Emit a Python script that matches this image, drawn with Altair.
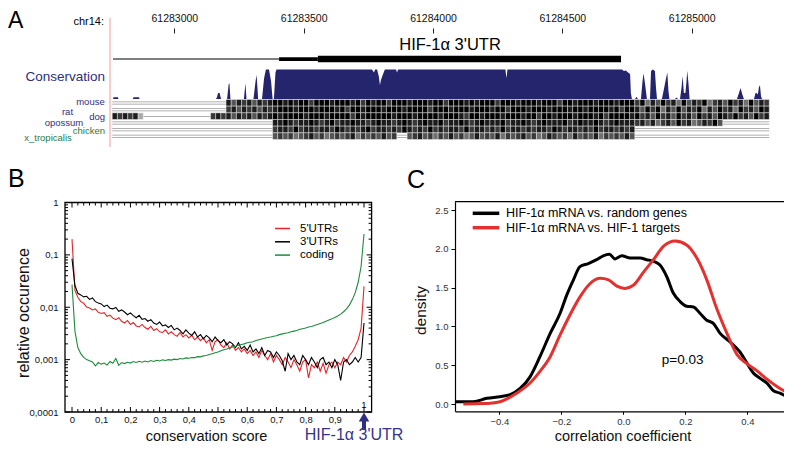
import altair as alt
import pandas as pd

FONT = "Liberation Sans"
W, H = 776, 436

# ---------------- Panel A : genome browser view ----------------
CHR_TICKS = [61283000, 61283500, 61284000, 61284500, 61285000]
GENE_PART = ["flank", "cds", "utr"]
GENE_START = [61282763, 61283405, 61283555]
GENE_END = [61283405, 61283555, 61284727]
GENE_NAME = "HIF-1α 3'UTR"
GENE_NAME_POS = 61284066

CONS_BASE = 61283000
CONS_OFFSET = [-237, -235, -218, -216, -160, -158, -136, -135,
               161, 165, 169, 175, 179, 181, 204, 210, 213, 217, 269, 275, 279,
               306, 314, 318, 322, 324, 339, 347, 354, 366, 374, 380, 385, 391, 395,
               764, 772, 776, 784, 791, 795, 799, 807, 814, 857, 861, 865, 1280, 1284, 1288,
               1731, 1738, 1746, 1754, 1762, 1765, 1769, 1781, 1787, 1792,
               1804, 1810, 1814, 1820, 1827, 1839, 1843, 1850, 1858, 1862, 1866,
               1885, 1893, 1901, 1906, 1910, 1914, 1935, 1942, 1947,
               1955, 1961, 1965, 1970, 1976, 1980, 1983, 1988, 1992,
               2175, 2183, 2189, 2196, 2202, 2241, 2247, 2251, 2256, 2260, 2264, 2268, 2272]
CONS_VALUE = [0, 0.06, 0.06, 0, 0, 0.06, 0.06, 0,
              0, 0.06, 0.2, 0.2, 0.06, 0, 0, 0.5, 0.53, 0, 0, 0.53, 0,
              0, 0.6, 0.81, 0.3, 0, 0, 0.7, 1.0, 1.0, 0.6, 0, 0, 0.9, 1.0,
              1.0, 0.9, 1.0, 1.0, 0.75, 0.47, 0.65, 0.85, 1.0, 1.0, 0.9, 1.0, 1.0, 0.7, 1.0,
              1.0, 0.95, 0.97, 0.9, 0.85, 0.2, 0, 0, 0.08, 0,
              0, 0.6, 0.87, 0.5, 0, 0, 0.95, 1.0, 0.95, 0.4, 0,
              0, 0.35, 0.7, 0.9, 0.3, 0, 0, 0.05, 0,
              0, 0.4, 0.78, 0.2, 0.2, 0.6, 0.96, 0.5, 0,
              0, 0.2, 0.37, 0.15, 0, 0, 0.2, 0.2, 0.15, 0.4, 0.47, 0.1, 0]

ALIGN_START = 61282760
ALIGN_BIN = 20
SPECIES = ["mouse", "rat", "dog", "opossum", "chicken", "x_tropicalis"]
MOUSE_ALN = ("-" * 22 + "868786878"
             + "9989899799" + "9899989798" + "9979998999" + "8997999898"
             + "9997999899" + "9899979989" + "9989998999"
             + "79586978596879578697859687")
RAT_ALN = ("-" * 22 + "786878687"
           + "8999899989" + "9989799899" + "9899989999" + "7999899989"
           + "9989979998" + "9998999899" + "8999989799"
           + "86979586968795869785978698")
DOG_ALN = ("87878" + "3" + "_" * 13 + "787868786878"
           + "9899998999" + "8999979899" + "9998999899" + "9989998799"
           + "8999899989" + "9799899989" + "9989799998"
           + "97869786978697869879786978")
OPOSSUM_ALN = ("-" * 31
               + "8898788987" + "8978898878" + "9887898789" + "8897889878"
               + "9888978898" + "7898889789" + "8898789888"
               + "78685786978568796" + "-" * 9)
CHICKEN_ALN = ("-" * 31
               + "7887978878" + "8798787897" + "8878798787" + "9787887978"
               + "8787978878" + "7887987887" + "8797887878" + "-" * 26)
XTROP_ALN = ("-" * 31 + "676756786756767857676867" + "--"
             + "6786757686" + "7568676857" + "6786756876" + "7586768576" + "7686"
             + "-" * 26)

# ---------------- Panel B : conservation score distributions ----------------
SCORE = [0.00, 0.01, 0.02, 0.03, 0.04, 0.05, 0.06, 0.07, 0.08, 0.09,
         0.10, 0.11, 0.12, 0.13, 0.14, 0.15, 0.16, 0.17, 0.18, 0.19,
         0.20, 0.21, 0.22, 0.23, 0.24, 0.25, 0.26, 0.27, 0.28, 0.29,
         0.30, 0.31, 0.32, 0.33, 0.34, 0.35, 0.36, 0.37, 0.38, 0.39,
         0.40, 0.41, 0.42, 0.43, 0.44, 0.45, 0.46, 0.47, 0.48, 0.49,
         0.50, 0.51, 0.52, 0.53, 0.54, 0.55, 0.56, 0.57, 0.58, 0.59,
         0.60, 0.61, 0.62, 0.63, 0.64, 0.65, 0.66, 0.67, 0.68, 0.69,
         0.70, 0.71, 0.72, 0.73, 0.74, 0.75, 0.76, 0.77, 0.78, 0.79,
         0.80, 0.81, 0.82, 0.83, 0.84, 0.85, 0.86, 0.87, 0.88, 0.89,
         0.90, 0.91, 0.92, 0.93, 0.94, 0.95, 0.96, 0.97, 0.98, 0.99, 1.00]
UTR5 = [0.2, 0.021, 0.0155, 0.0128, 0.0119, 0.0101, 0.0097, 0.0089, 0.0093, 0.0080,
        0.0076, 0.0079, 0.0067, 0.0071, 0.0062, 0.0058, 0.0063, 0.0054, 0.0050, 0.0056,
        0.0047, 0.0051, 0.0044, 0.0042, 0.0047, 0.0041, 0.0038, 0.0043, 0.0036, 0.0039,
        0.0034, 0.0033, 0.0037, 0.0031, 0.0034, 0.0030, 0.0028, 0.0033, 0.0027, 0.0030,
        0.0026, 0.0029, 0.0024, 0.0027, 0.0023, 0.0026, 0.0021, 0.0024, 0.0015, 0.0022,
        0.0024, 0.0019, 0.0017, 0.0021, 0.0016, 0.0019, 0.0015, 0.0017, 0.0014, 0.0016,
        0.0013, 0.0015, 0.0012, 0.0014, 0.0011, 0.0015, 0.0012, 0.0010, 0.0013, 0.0009,
        0.0012, 0.0010, 0.0008, 0.0011, 0.0009, 0.0007, 0.0010, 0.0008, 0.0006, 0.0009,
        0.0010, 0.00045, 0.0008, 0.0007, 0.0009, 0.0006, 0.00085, 0.00055, 0.0008, 0.0009,
        0.0007, 0.0009, 0.0008, 0.0011, 0.0009, 0.0012, 0.0014, 0.0018, 0.0024, 0.0040, 0.025]
UTR3 = [0.085, 0.026, 0.0185, 0.0172, 0.0158, 0.0162, 0.0141, 0.0150, 0.0128, 0.0121,
        0.0116, 0.0103, 0.0110, 0.0096, 0.0093, 0.0099, 0.0084, 0.0089, 0.0081, 0.0072,
        0.0078, 0.0069, 0.0063, 0.0070, 0.0059, 0.0061, 0.0054, 0.0058, 0.0050, 0.0047,
        0.0052, 0.0044, 0.0046, 0.0041, 0.0045, 0.0037, 0.0040, 0.0036, 0.0031, 0.0037,
        0.0032, 0.0029, 0.0034, 0.0027, 0.0030, 0.0025, 0.0029, 0.0026, 0.0022, 0.0027,
        0.0023, 0.0021, 0.0024, 0.0019, 0.0022, 0.0020, 0.0017, 0.0021, 0.0016, 0.0018,
        0.0015, 0.0019, 0.0014, 0.0016, 0.0013, 0.0017, 0.0012, 0.0015, 0.0014, 0.0011,
        0.0014, 0.0012, 0.00095, 0.0006, 0.0013, 0.0010, 0.0012, 0.0009, 0.0008, 0.0012,
        0.0010, 0.0008, 0.0011, 0.0009, 0.0007, 0.0010, 0.0011, 0.0008, 0.0009, 0.0007,
        0.0010, 0.0008, 0.0004, 0.0009, 0.0010, 0.0008, 0.0009, 0.0011, 0.0009, 0.0011, 0.005]
CODING = [0.027, 0.0035, 0.0017, 0.0013, 0.0011, 0.001, 0.00095, 0.0009, 0.00076, 0.00088,
          0.00082, 0.00086, 0.00079, 0.00092, 0.00085, 0.00105, 0.00078, 0.00088, 0.00084, 0.00089,
          0.00086, 0.00092, 0.00088, 0.00093, 0.00089, 0.00094, 0.0009, 0.00096, 0.00092, 0.00097,
          0.00094, 0.00099, 0.00096, 0.001, 0.00098, 0.00102, 0.001, 0.00105, 0.00103, 0.00108,
          0.00106, 0.0011, 0.00109, 0.00114, 0.00113, 0.00118, 0.0012, 0.00125, 0.0013, 0.00135,
          0.0014, 0.00148, 0.00155, 0.0016, 0.00168, 0.00175, 0.0018, 0.00188, 0.00195, 0.002,
          0.0021, 0.00215, 0.0022, 0.00232, 0.0024, 0.00248, 0.00255, 0.00265, 0.0027, 0.0028,
          0.00285, 0.003, 0.0031, 0.0032, 0.00325, 0.0034, 0.0035, 0.0036, 0.0038, 0.0039,
          0.004, 0.0042, 0.0043, 0.0045, 0.0047, 0.0049, 0.0051, 0.0054, 0.0057, 0.006,
          0.0064, 0.0068, 0.0074, 0.0082, 0.0093, 0.011, 0.014, 0.019, 0.03, 0.06, 0.25]
B_SERIES = ["5'UTRs", "3'UTRs", "coding"]
B_COLORS = ["#e5252b", "#000000", "#1d8b3d"]
B_XLABELS = [0, 0.1, 0.2, 0.3, 0.4, 0.5, 0.6, 0.7, 0.8, 0.9]
B_XMAJOR = [0, 0.1, 0.2, 0.3, 0.4, 0.5, 0.6, 0.7, 0.8, 0.9, 1.0]
B_XMINOR = [0.02, 0.04, 0.06, 0.08, 0.12, 0.14, 0.16, 0.18, 0.22, 0.24, 0.26, 0.28,
            0.32, 0.34, 0.36, 0.38, 0.42, 0.44, 0.46, 0.48, 0.52, 0.54, 0.56, 0.58,
            0.62, 0.64, 0.66, 0.68, 0.72, 0.74, 0.76, 0.78, 0.82, 0.84, 0.86, 0.88,
            0.92, 0.94, 0.96, 0.98]
B_YMAJOR = [1, 0.1, 0.01, 0.001, 0.0001]
B_YMINOR = [0.0002, 0.0003, 0.0004, 0.0005, 0.0006, 0.0007, 0.0008, 0.0009,
            0.002, 0.003, 0.004, 0.005, 0.006, 0.007, 0.008, 0.009,
            0.02, 0.03, 0.04, 0.05, 0.06, 0.07, 0.08, 0.09,
            0.2, 0.3, 0.4, 0.5, 0.6, 0.7, 0.8, 0.9]

# ---------------- Panel C : correlation densities ----------------
C_SERIES = ["HIF-1α mRNA vs. random genes", "HIF-1α mRNA vs. HIF-1 targets"]
C_COLORS = ["#000000", "#e3312f"]
RANDOM_X = [-0.543, -0.484, -0.44, -0.398, -0.365, -0.333, -0.301, -0.269, -0.236, -0.204,
            -0.183, -0.161, -0.14, -0.113, -0.086, -0.065, -0.045, -0.027, -0.005, 0.022,
            0.054, 0.075, 0.097, 0.118, 0.14, 0.161, 0.183, 0.204, 0.226, 0.247,
            0.269, 0.29, 0.312, 0.344, 0.376, 0.398, 0.419, 0.441, 0.463, 0.484, 0.505, 0.538]
RANDOM_Y = [0.03, 0.03, 0.073, 0.094, 0.12, 0.2, 0.35, 0.61, 0.91, 1.17,
            1.40, 1.6, 1.77, 1.81, 1.86, 1.91, 1.93, 1.87, 1.91, 1.88,
            1.88, 1.86, 1.84, 1.79, 1.64, 1.43, 1.32, 1.26, 1.25, 1.17,
            1.08, 1.04, 0.91, 0.80, 0.67, 0.53, 0.40, 0.33, 0.27, 0.17, 0.14, 0.07]
TARGET_X = [-0.516, -0.452, -0.398, -0.344, -0.301, -0.269, -0.236, -0.204, -0.172, -0.14,
            -0.108, -0.075, -0.048, -0.021, 0.005, 0.032, 0.065, 0.097, 0.129, 0.167,
            0.204, 0.237, 0.269, 0.301, 0.334, 0.366, 0.398, 0.43, 0.463, 0.505, 0.543]
TARGET_Y = [0.0, 0.005, 0.03, 0.14, 0.27, 0.42, 0.61, 0.89, 1.15, 1.38,
            1.55, 1.62, 1.60, 1.52, 1.49, 1.53, 1.70, 1.86, 2.03, 2.10,
            2.05, 1.88, 1.60, 1.23, 0.91, 0.64, 0.52, 0.43, 0.32, 0.2, 0.12]
C_XTICKS = [-0.4, -0.2, 0, 0.2, 0.4]
C_YTICKS = [0, 0.5, 1.0, 1.5, 2.0, 2.5]

# ---------------- colours ----------------
NAVY_FILL = "#25256e"
NAVY_TXT = "#2f2f7c"
GREEN_TXT = "#2b7a3a"

# ---------------- scales (explicit pixel ranges) ----------------
XA = alt.Scale(domain=[61282357, 61285357], range=[0, 776], nice=False, zero=False)
CONS_Y = alt.Scale(domain=[0, 1], range=[91, 61.5], nice=False, zero=False)
ROW_Y = alt.Scale(domain=[0, 6], range=[91.5, 131.5], nice=False, zero=False)
BX = alt.Scale(domain=[-0.024, 1.026], range=[57, 363.6], nice=False, zero=False)
BY = alt.Scale(type="log", domain=[0.0001, 1], range=[404, 194.5], nice=False)
CX = alt.Scale(domain=[-0.543, 0.518], range=[447, 776], nice=False, zero=False)
CY = alt.Scale(domain=[-0.094, 2.607], range=[403.3, 193.7], nice=False, zero=False)

ONE = pd.DataFrame({"d": [0]})
layers = []


def label(text, x, y, size, color="black", align="left", baseline="middle", angle=0):
    return alt.Chart(pd.DataFrame({"t": [text]})).mark_text(
        align=align, baseline=baseline, fontSize=size, color=color, angle=angle, font=FONT
    ).encode(text="t:N", x=alt.value(x), y=alt.value(y))


# ---- Panel A ----
gene_df = pd.DataFrame({"start": GENE_START, "end": GENE_END, "part": GENE_PART})
layers.append(alt.Chart(gene_df).mark_rule(color="black").encode(
    x=alt.X("start:Q", scale=XA, axis=alt.Axis(
        orient="top", values=CHR_TICKS, format="d", offset=-25, tickSize=5, tickColor="#222",
        labelPadding=5, labelFontSize=10.5, labelColor="#111", domain=False, grid=False,
        title=None, labelFlush=False, labelOverlap=False)),
    x2="end:Q",
    y=alt.value(51),
    size=alt.Size("part:N", scale=alt.Scale(domain=GENE_PART, range=[1, 6.5, 3.5]), legend=None),
))
layers.append(alt.Chart(pd.DataFrame({"t": [GENE_NAME]})).mark_text(
    fontSize=16.5, align="center", baseline="middle", font=FONT, color="black"
).encode(text="t:N", x=alt.XDatum(GENE_NAME_POS, scale=XA, axis=None), y=alt.value(37)))

cons_df = pd.DataFrame({"pos": [CONS_BASE + o for o in CONS_OFFSET], "cons": CONS_VALUE})
layers.append(alt.Chart(cons_df).mark_area(color=NAVY_FILL, interpolate="linear").encode(
    x=alt.X("pos:Q", scale=XA, axis=None),
    y=alt.Y("cons:Q", scale=CONS_Y, axis=None),
))

blocks, gaps = [], []
for r, s in enumerate([MOUSE_ALN, RAT_ALN, DOG_ALN, OPOSSUM_ALN, CHICKEN_ALN, XTROP_ALN]):
    i = 0
    while i < len(s):
        c = s[i]
        j = i + 1
        if c.isdigit():
            g = int(round(255 * (1 - int(c) / 9)))
            blocks.append({"start": ALIGN_START + i * ALIGN_BIN, "end": ALIGN_START + j * ALIGN_BIN,
                           "row": r, "row2": r + 1, "fill": "#%02x%02x%02x" % (g, g, g)})
        else:
            while j < len(s) and s[j] == c:
                j += 1
            for o in ([0.35, 0.7] if c == "-" else [0.55]):
                gaps.append({"start": ALIGN_START + i * ALIGN_BIN, "end": ALIGN_START + j * ALIGN_BIN,
                             "y": r + o})
        i = j
layers.append(alt.Chart(pd.DataFrame(gaps)).mark_rule(color="#a6a6a6", strokeWidth=0.9).encode(
    x=alt.X("start:Q", scale=XA, axis=None), x2="end:Q",
    y=alt.Y("y:Q", scale=ROW_Y, axis=None),
))
layers.append(alt.Chart(pd.DataFrame(blocks)).mark_rect(stroke="white", strokeWidth=0.4).encode(
    x=alt.X("start:Q", scale=XA, axis=None), x2="end:Q",
    y=alt.Y("row:Q", scale=ROW_Y, axis=None), y2="row2:Q",
    fill=alt.Fill("fill:N", scale=None),
))
layers.append(alt.Chart(ONE).mark_rule(color="#f19a9a", strokeWidth=1).encode(
    x=alt.value(102), y=alt.value(10), y2=alt.value(139)))

layers.append(label("A", 0, 19.5, 23, baseline="alphabetic"))
layers.append(label("chr14:", 96, 14, 11, align="right"))
layers.append(label("Conservation", 97, 69, 13.5, color=NAVY_TXT, align="right"))
for name, x, y, al, col in [("mouse", 96.7, 93.5, "right", NAVY_TXT),
                            ("rat", 59.5, 104, "center", NAVY_TXT),
                            ("dog", 97, 109.3, "right", NAVY_TXT),
                            ("opossum", 56, 114.7, "center", NAVY_TXT),
                            ("chicken", 97, 122.5, "right", GREEN_TXT),
                            ("x_tropicalis", 40, 129.5, "center", GREEN_TXT)]:
    layers.append(label(name, x, y, 9.5, color=col, align=al))

# ---- Panel B ----
b_df = pd.DataFrame({
    "score": SCORE * 3,
    "value": UTR5 + UTR3 + CODING,
    "series": [B_SERIES[0]] * len(SCORE) + [B_SERIES[1]] * len(SCORE) + [B_SERIES[2]] * len(SCORE),
})
layers.append(alt.Chart(b_df).mark_line(strokeWidth=1.1).encode(
    x=alt.X("score:Q", scale=BX, axis=alt.Axis(
        orient="bottom", offset=-32, values=B_XLABELS, tickSize=0, domain=False, grid=False,
        labelExpr="datum.value == 0 ? '0' : replace(format(datum.value, '.1f'), '.', ',')",
        labelPadding=2, labelFontSize=9.5, labelColor="#111", labelFlush=False, labelOverlap=False,
        title="conservation score", titleFontSize=14.5, titleFontWeight="normal", titleColor="#111",
        titleX=198, titleY=28.5, titleBaseline="alphabetic")),
    y=alt.Y("value:Q", scale=BY, axis=alt.Axis(
        orient="left", offset=-57, values=B_YMAJOR, tickSize=0, domain=False, grid=False,
        labelExpr="replace(toString(datum.value), '.', ',')",
        labelPadding=7, labelFontSize=9.5, labelColor="#111", labelFlush=False, labelOverlap=False,
        title="relative occurence", titleFontSize=16, titleFontWeight="normal", titleColor="#111",
        titleX=-37, titleY=304.5, titleBaseline="alphabetic", titleAngle=270)),
    color=alt.Color("series:N", scale=alt.Scale(domain=B_SERIES, range=B_COLORS), legend=None),
    detail="series:N",
))
layers.append(alt.Chart(ONE).mark_rect(fill="transparent", stroke="black", strokeWidth=1.3).encode(
    x=alt.XDatum(-0.024, scale=BX, axis=None), x2=alt.X2Datum(1.026),
    y=alt.YDatum(0.0001, scale=BY, axis=None), y2=alt.Y2Datum(1),
))


def bxticks(vals, y0, length):
    return alt.Chart(pd.DataFrame({"v": vals})).mark_rule(color="black", strokeWidth=1).encode(
        x=alt.X("v:Q", scale=BX, axis=None), y=alt.value(y0), y2=alt.value(y0 + length))


def byticks(vals, x0, length):
    return alt.Chart(pd.DataFrame({"v": vals})).mark_rule(color="black", strokeWidth=1).encode(
        y=alt.Y("v:Q", scale=BY, axis=None), x=alt.value(x0), x2=alt.value(x0 + length))


layers += [bxticks(B_XMAJOR, 404, -5), bxticks(B_XMINOR, 404, -3),
           bxticks(B_XMAJOR, 194.5, 5), bxticks(B_XMINOR, 194.5, 3),
           byticks(B_YMAJOR, 57, 5), byticks(B_YMINOR, 57, 3),
           byticks(B_YMAJOR, 363.6, -5), byticks(B_YMINOR, 363.6, -3)]

leg_b = pd.DataFrame({"s": B_SERIES})
LB_Y = alt.Scale(type="point", domain=B_SERIES, range=[220.5, 247.1], padding=0)
layers.append(alt.Chart(leg_b).mark_rule(strokeWidth=1.5).encode(
    y=alt.Y("s:N", scale=LB_Y, axis=None), x=alt.value(267), x2=alt.value(282),
    color=alt.Color("s:N", scale=alt.Scale(domain=B_SERIES, range=B_COLORS), legend=None)))
layers.append(alt.Chart(leg_b).mark_text(align="left", baseline="middle", fontSize=11.5, font=FONT,
                                         color="black").encode(
    y=alt.Y("s:N", scale=LB_Y, axis=None), x=alt.value(292), text="s:N"))

layers.append(alt.Chart(pd.DataFrame({"t": ["1"]})).mark_text(fontSize=9.5, font=FONT, baseline="middle").encode(
    text="t:N", x=alt.XDatum(1.0, scale=BX, axis=None), y=alt.YDatum(0.000136, scale=BY, axis=None)))
layers.append(alt.Chart(ONE).mark_rule(color="#2e2e84", strokeWidth=4).encode(
    x=alt.XDatum(1.0, scale=BX, axis=None), y=alt.value(411), y2=alt.value(422)))
layers.append(alt.Chart(ONE).mark_point(shape="triangle-up", filled=True, size=110, color="#2e2e84",
                                        opacity=1).encode(
    x=alt.XDatum(1.0, scale=BX, axis=None), y=alt.value(409)))
layers.append(alt.Chart(pd.DataFrame({"t": [GENE_NAME]})).mark_text(
    fontSize=16, font=FONT, color="#34348a", align="center", baseline="alphabetic").encode(
    text="t:N", x=alt.XDatum(0.966, scale=BX, axis=None), y=alt.value(432)))
layers.append(label("B", 0, 178.5, 25, baseline="alphabetic"))

# ---- Panel C ----
c_df = pd.DataFrame({
    "r": RANDOM_X + TARGET_X,
    "density": RANDOM_Y + TARGET_Y,
    "series": [C_SERIES[0]] * len(RANDOM_X) + [C_SERIES[1]] * len(TARGET_X),
})
layers.append(alt.Chart(c_df).mark_line(strokeWidth=3, interpolate="monotone").encode(
    x=alt.X("r:Q", scale=CX, axis=alt.Axis(
        orient="bottom", offset=-32.7, values=C_XTICKS, format=".1f", tickSize=3, tickColor="black",
        domain=True, domainColor="black", domainWidth=1.2, grid=False,
        labelPadding=2, labelFontSize=9.5, labelColor="#333", labelFlush=False, labelOverlap=False,
        title="correlation coefficient", titleFontSize=14.5, titleFontWeight="normal", titleColor="#111",
        titleX=614.5, titleY=29.2, titleBaseline="alphabetic")),
    y=alt.Y("density:Q", scale=CY, axis=alt.Axis(
        orient="left", offset=-447, values=C_YTICKS, format=".1f", tickSize=4, tickColor="black",
        domain=True, domainColor="black", domainWidth=1.2, grid=False,
        labelPadding=3, labelFontSize=9.5, labelColor="#333", labelFlush=False, labelOverlap=False,
        title="density", titleFontSize=15.5, titleFontWeight="normal", titleColor="#111",
        titleX=-29.5, titleY=302, titleBaseline="alphabetic", titleAngle=270)),
    color=alt.Color("series:N", scale=alt.Scale(domain=C_SERIES, range=C_COLORS), legend=None),
    detail="series:N",
))
layers.append(alt.Chart(ONE).mark_rule(color="black", strokeWidth=1.2).encode(
    x=alt.XDatum(-0.543, scale=CX, axis=None), x2=alt.X2Datum(0.518),
    y=alt.YDatum(2.607, scale=CY, axis=None)))
layers.append(alt.Chart(pd.DataFrame({"t": ["p=0.03"]})).mark_text(
    fontSize=13.5, font=FONT, color="black", baseline="middle").encode(
    text="t:N", x=alt.XDatum(0.191, scale=CX, axis=None), y=alt.YDatum(0.567, scale=CY, axis=None)))

leg_c = pd.DataFrame({"s": C_SERIES})
LC_Y = alt.Scale(type="point", domain=C_SERIES, range=[205.3, 219.7], padding=0)
layers.append(alt.Chart(leg_c).mark_rule(strokeWidth=3.5).encode(
    y=alt.Y("s:N", scale=LC_Y, axis=None), x=alt.value(464.7), x2=alt.value(491.3),
    color=alt.Color("s:N", scale=alt.Scale(domain=C_SERIES, range=C_COLORS), legend=None)))
layers.append(alt.Chart(leg_c).mark_text(align="left", baseline="middle", fontSize=12.5, font=FONT,
                                         color="black").encode(
    y=alt.Y("s:N", scale=LC_Y, axis=None), x=alt.value(498), text="s:N"))
layers.append(label("C", 399, 179.5, 25, baseline="alphabetic"))

chart = alt.layer(*layers).resolve_scale(
    x="independent", y="independent", color="independent", size="independent", fill="independent"
).properties(
    width=W, height=H, autosize=alt.AutoSizeParams(type="none"), padding=0
).configure_view(stroke=None).configure_axis(
    labelFont=FONT, titleFont=FONT, grid=False
).configure_text(font=FONT)

chart.save("out.html", embed_options={"renderer": "svg", "actions": False})
